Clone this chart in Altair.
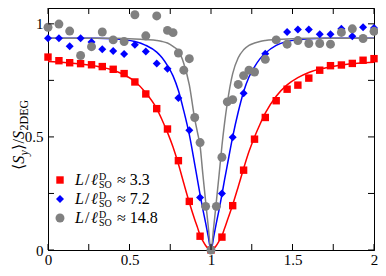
import altair as alt
import pandas as pd

# ---------------- data ----------------
pts_x = [0, 0.067, 0.133, 0.2, 0.267, 0.333, 0.4, 0.467, 0.533, 0.6, 0.667, 0.733,
         0.8, 0.867, 0.933, 1.0, 1.067, 1.133, 1.2, 1.267, 1.333, 1.4, 1.467, 1.533,
         1.6, 1.667, 1.733, 1.8, 1.867, 1.933, 2.0]
red_pts = [0.853, 0.837, 0.828, 0.824, 0.819, 0.811, 0.799, 0.780, 0.743, 0.690, 0.625, 0.535,
           0.395, 0.215, 0.061, 0.0, 0.057, 0.196, 0.353, 0.49, 0.586, 0.66, 0.711, 0.729,
           0.76, 0.795, 0.815, 0.818, 0.825, 0.839, 0.846]
blue_pts = [0.936, 0.936, 0.901, 0.936, 0.92, 0.888, 0.88, 0.867, 0.908, 0.878, 0.825, 0.801,
            0.672, 0.53, 0.232, 0.0, 0.25, 0.498, 0.693, 0.79, 0.868, 0.93, 0.964, 0.975,
            0.975, 0.954, 0.954, 0.978, 0.945, 0.985, 0.982]
gray_x = [0, 0.067, 0.133, 0.2, 0.267, 0.333, 0.4, 0.467, 0.533, 0.6, 0.667, 0.733, 0.767,
          0.8, 0.833, 0.867, 0.9, 0.933, 0.967, 1.0, 1.033, 1.067, 1.1, 1.133, 1.167, 1.2,
          1.233, 1.267, 1.333, 1.4, 1.467, 1.533, 1.6, 1.667, 1.733, 1.8, 1.867, 1.933, 2.0]
gray_pts = [0.985, 0.999, 0.968, 0.86, 0.899, 0.964, 0.929, 0.922, 1.04, 0.947, 1.035, 0.971, 0.961,
            0.871, 0.795, 0.846, 0.586, 0.475, 0.193, 0.0, 0.193, 0.41, 0.655, 0.665, 0.732, 0.771,
            0.795, 0.787, 0.843, 0.929, 0.91, 0.926, 0.913, 0.913, 0.91, 0.962, 0.978, 0.935, 0.967]

curve_x = [0, 0.1, 0.2, 0.3, 0.4, 0.467, 0.533, 0.6, 0.667, 0.7, 0.733, 0.767, 0.8, 0.833,
           0.867, 0.9, 0.917, 0.933, 0.95, 0.967, 0.983, 1.0, 1.017, 1.033, 1.05, 1.067,
           1.083, 1.1, 1.133, 1.167, 1.2, 1.233, 1.267, 1.3, 1.333, 1.4, 1.467, 1.533, 1.6,
           1.7, 1.8, 1.9, 2.0]
red_curve = [0.833, 0.829, 0.822, 0.812, 0.795, 0.775, 0.745, 0.695, 0.625, 0.575, 0.52, 0.455,
             0.38, 0.295, 0.21, 0.135, 0.1, 0.065, 0.04, 0.02, 0.006, 0.0,
             0.006, 0.02, 0.04, 0.062, 0.095, 0.13, 0.2, 0.28, 0.36, 0.435, 0.5, 0.555, 0.605,
             0.68, 0.73, 0.762, 0.785, 0.805, 0.818, 0.826, 0.83]
blue_curve = [0.936, 0.936, 0.936, 0.936, 0.934, 0.93, 0.922, 0.905, 0.875, 0.85, 0.815, 0.77,
              0.705, 0.615, 0.51, 0.38, 0.31, 0.245, 0.18, 0.12, 0.06, 0.0,
              0.06, 0.12, 0.18, 0.245, 0.31, 0.375, 0.5, 0.61, 0.7, 0.765, 0.81, 0.845, 0.87,
              0.905, 0.922, 0.93, 0.934, 0.936, 0.936, 0.936, 0.936]
gray_curve = [0.936, 0.936, 0.936, 0.936, 0.936, 0.935, 0.933, 0.93, 0.926, 0.922, 0.915, 0.9,
              0.88, 0.825, 0.73, 0.58, 0.52, 0.46, 0.335, 0.215, 0.105, 0.0,
              0.105, 0.215, 0.335, 0.46, 0.56, 0.65, 0.78, 0.85, 0.885, 0.905, 0.915, 0.922,
              0.926, 0.93, 0.933, 0.935, 0.936, 0.936, 0.936, 0.936, 0.936]

x_tick_labels = [0, 0.5, 1, 1.5, 2]
y_tick_labels = [0, 0.5, 1]
x_minor = [0, 0.25, 0.5, 0.75, 1, 1.25, 1.5, 1.75, 2]
y_minor = [0, 0.25, 0.5, 0.75, 1]
legend_labels = ["3.3", "7.2", "14.8"]

# ---------------- styling ----------------
FONT = "Liberation Serif"
RED, BLUE, GRAY = "#ff0000", "#0000ff", "#808080"
PAD_L, PAD_R, PAD_T, PAD_B = 40, 4, 0, 18
W, H = 370 - PAD_L - PAD_R, 260 - PAD_T - PAD_B
TICK = 6

xs = alt.Scale(domain=[0, 2], nice=False, zero=False)
ys = alt.Scale(domain=[0, 1.07], nice=False, zero=False)
ax = alt.Axis(values=x_tick_labels, format="~g", ticks=False, grid=False, labelFlush=False,
              labelPadding=2, labelFontSize=15, labelFont=FONT, labelColor="black",
              domainColor="black", title=None)
ay = alt.Axis(values=y_tick_labels, format="~g", ticks=False, grid=False, labelFlush=False,
              labelPadding=5, labelFontSize=15, labelFont=FONT, labelColor="black",
              domainColor="black", title=None)


def X(f="x"):
    return alt.X(f + ":Q", scale=xs, axis=ax)


def Y(f="y"):
    return alt.Y(f + ":Q", scale=ys, axis=ay)


layers = []
for cy, col in [(red_curve, RED), (blue_curve, BLUE), (gray_curve, GRAY)]:
    df = pd.DataFrame({"x": curve_x, "y": cy})
    layers.append(alt.Chart(df).mark_line(color=col, strokeWidth=1.5, interpolate="monotone")
                  .encode(x=X(), y=Y()))

for xv, yv, col, shape, size in [(pts_x, red_pts, RED, "square", 55),
                                 (pts_x, blue_pts, BLUE, "diamond", 64),
                                 (gray_x, gray_pts, GRAY, "circle", 80)]:
    df = pd.DataFrame({"x": xv, "y": yv})
    layers.append(alt.Chart(df).mark_point(shape=shape, filled=True, size=size, color=col,
                                           opacity=1, strokeWidth=0)
                  .encode(x=X(), y=Y()))

# inward ticks on all four sides
tx = pd.DataFrame({"t": x_minor})
ty = pd.DataFrame({"t": y_minor})
layers.append(alt.Chart(tx).mark_rule(color="black", strokeWidth=1)
              .encode(x=X("t"), y=alt.value(H), y2=alt.value(H - TICK)))
layers.append(alt.Chart(tx).mark_rule(color="black", strokeWidth=1)
              .encode(x=X("t"), y=alt.value(0), y2=alt.value(TICK)))
layers.append(alt.Chart(ty).mark_rule(color="black", strokeWidth=1)
              .encode(y=Y("t"), x=alt.value(0), x2=alt.value(TICK)))
layers.append(alt.Chart(ty).mark_rule(color="black", strokeWidth=1)
              .encode(y=Y("t"), x=alt.value(W), x2=alt.value(W - TICK)))


def txt(s, x, y, size, dx=0, dy=0, angle=0, italic=False):
    return (alt.Chart(pd.DataFrame({"s": [s]}))
            .mark_text(align="left", baseline="alphabetic", font=FONT, fontSize=size,
                       fontStyle="italic" if italic else "normal", color="black",
                       angle=angle, dx=dx, dy=dy)
            .encode(text="s:N", x=alt.value(x), y=alt.value(y)))


# y-axis title  <S_y>/S_2DEG  (rotated)
TX, TY = -24, 162
for s, dx, dy, size, it in [("\u27e8", 0, 0, 16, False), ("S", 6.2, 0, 16, True),
                            ("y", 14.6, 3.5, 12, True), ("\u27e9", 20.3, 0, 16, False),
                            ("/", 26.5, 0, 16, False), ("S", 31, 0, 16, True),
                            ("2DEG", 39.5, 3.5, 12, False)]:
    layers.append(txt(s, TX, TY, size, dx=dx, dy=dy, angle=270, italic=it))

# legend
LX = -3
for i, (lab, col, shape, size) in enumerate([(legend_labels[0], RED, "square", 55),
                                             (legend_labels[1], BLUE, "diamond", 64),
                                             (legend_labels[2], GRAY, "circle", 80)]):
    cy = 172 + 19 * i
    base = cy + 5
    layers.append(alt.Chart(pd.DataFrame({"k": [lab]}))
                  .mark_point(shape=shape, filled=True, size=size, color=col, opacity=1,
                              strokeWidth=0)
                  .encode(x=alt.value(15 + LX), y=alt.value(cy)))
    layers.append(txt("L", 30 + LX, base, 16, italic=True))
    layers.append(txt("/", 40 + LX, base, 16))
    layers.append(txt("\u2113", 46 + LX, base, 16, italic=True))
    layers.append(txt("D", 54 + LX, base, 10, dy=-5))
    layers.append(txt("SO", 54 + LX, base, 10, dy=2.5))
    layers.append(txt("\u2248 " + lab, 72 + LX, base, 16))

chart = alt.layer(*layers).properties(
    width=W, height=H,
    autosize=alt.AutoSizeParams(type="none"),
    padding={"left": PAD_L, "top": PAD_T, "right": PAD_R, "bottom": PAD_B},
).configure_view(stroke="black", strokeWidth=1)

chart.save("out.html", embed_options={"renderer": "svg", "actions": False})
